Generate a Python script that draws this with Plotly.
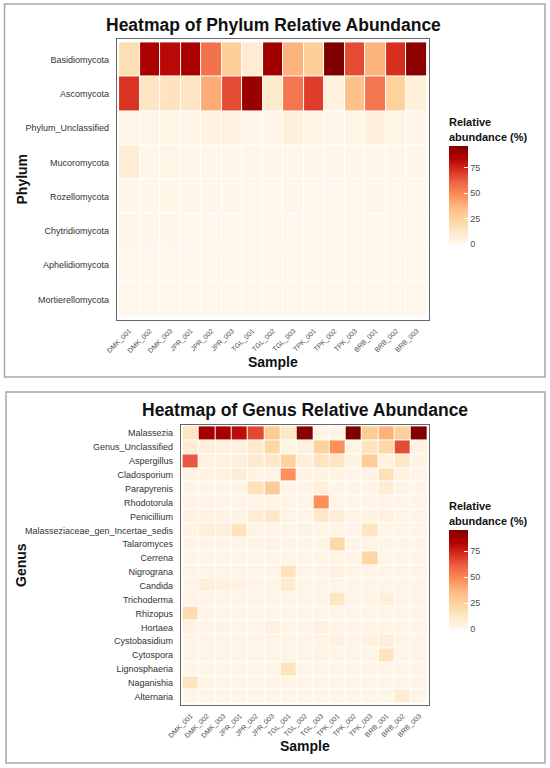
import plotly.graph_objects as go

samples = ["DMK_001", "DMK_002", "DMK_003", "JPR_001", "JPR_002", "JPR_003",
           "TGL_001", "TGL_002", "TGL_003", "TPK_001", "TPK_002", "TPK_003",
           "BRB_001", "BRB_002", "BRB_003"]

phyla = ["Basidiomycota", "Ascomycota", "Phylum_Unclassified", "Mucoromycota",
         "Rozellomycota", "Chytridiomycota", "Aphelidiomycota", "Mortierellomycota"]

basidiomycota = [18, 86, 82, 86, 56, 27, 8, 88, 38, 27, 96, 66, 38, 72, 93]
ascomycota = [71, 13, 15, 13, 40, 66, 90, 10, 55, 69, 4, 33, 55, 25, 6]
phylum_unclassified = [1.5, 2, 2, 2, 4, 4.5, 1.5, 2, 6, 2.5, 1, 2, 5.5, 2, 1.5]
mucoromycota = [8, 1.5, 2, 1, 0.8, 0.8, 0.6, 0.6, 0.8, 0.6, 0.5, 0.6, 0.8, 0.6, 0.5]
rozellomycota = [1, 1, 1.2, 0.6, 0.5, 0.5, 0.4, 0.4, 0.5, 0.4, 0.3, 0.4, 0.5, 0.4, 0.3]
chytridiomycota = [0.8, 0.5, 0.5, 0.4, 0.4, 0.4, 0.3, 0.3, 0.4, 0.3, 0.3, 0.3, 0.4, 0.3, 0.3]
aphelidiomycota = [0.4, 0.3, 0.3, 0.3, 0.3, 0.3, 0.2, 0.2, 0.3, 0.2, 0.2, 0.2, 0.3, 0.2, 0.2]
mortierellomycota = [0.4, 0.3, 0.3, 0.3, 0.3, 0.3, 0.2, 0.2, 0.3, 0.2, 0.2, 0.2, 0.3, 0.2, 0.2]

genera = ["Malassezia", "Genus_Unclassified", "Aspergillus", "Cladosporium",
          "Parapyrenis", "Rhodotorula", "Penicillium",
          "Malasseziaceae_gen_Incertae_sedis", "Talaromyces", "Cerrena",
          "Nigrograna", "Candida", "Trichoderma", "Rhizopus", "Hortaea",
          "Cystobasidium", "Cytospora", "Lignosphaeria", "Naganishia", "Alternaria"]

malassezia = [13, 86, 86, 80, 66, 28, 12, 93, 3, 3, 95, 28, 38, 26, 94]
genus_unclassified = [8, 6, 5, 5, 10, 22, 3, 5, 25, 47, 3, 15, 22, 65, 4]
aspergillus = [62, 4, 5, 6, 10, 12, 24, 6, 14, 14, 3, 27, 5, 12, 3]
cladosporium = [3, 4, 5, 8, 3, 3, 47, 3, 3, 3, 2, 3, 16, 3, 2]
parapyrenis = [2, 2, 2, 2, 16, 28, 2, 2, 6, 2, 1.5, 2, 8, 3, 2]
rhodotorula = [2, 2, 2, 2, 2, 2, 2, 2, 47, 2, 1.5, 2, 2, 2, 2]
penicillium = [3, 4, 3, 3, 8, 12, 3, 2, 12, 8, 2, 3, 5, 2, 2]
malasseziaceae = [3, 6, 6, 15, 3, 2, 2, 3, 2, 2, 2, 14, 2, 2, 2]
talaromyces = [2, 2, 2, 2, 2, 4, 2, 2, 2, 22, 1.5, 2, 2, 2, 2]
cerrena = [1.5, 1.5, 1.5, 1.5, 1.5, 1.5, 1.5, 1.5, 1.5, 1.5, 1.5, 22, 1.5, 1.5, 1.5]
nigrograna = [2, 2, 2, 2, 2, 2, 15, 2, 2, 5, 2, 2, 2, 2, 2]
candida = [2, 6, 5, 4, 2, 2, 10, 2, 2, 2, 2, 2, 2, 2, 2]
trichoderma = [2, 2, 2, 2, 2, 2, 2, 2, 2, 13, 2, 2, 6, 2, 2]
rhizopus = [18, 1.5, 1.5, 1.5, 1.5, 1.5, 1.5, 1.5, 1.5, 1.5, 1.5, 1.5, 1.5, 1.5, 1.5]
hortaea = [4, 2, 3, 2, 2, 5, 2, 2, 5, 2, 2, 2, 2, 2, 2]
cystobasidium = [2, 2, 2, 2, 2, 2, 2, 2, 2, 5, 2, 5, 6, 2, 2]
cytospora = [1.5, 1.5, 1.5, 1.5, 1.5, 1.5, 1.5, 1.5, 3, 1.5, 1.5, 1.5, 14, 1.5, 1.5]
lignosphaeria = [1.5, 1.5, 1.5, 1.5, 1.5, 1.5, 15, 1.5, 1.5, 1.5, 1.5, 1.5, 1.5, 1.5, 1.5]
naganishia = [14, 1.5, 1.5, 1.5, 1.5, 1.5, 1.5, 1.5, 1.5, 1.5, 1.5, 1.5, 1.5, 1.5, 1.5]
alternaria = [1.5, 1.5, 1.5, 1.5, 1.5, 1.5, 1.5, 1.5, 1.5, 1.5, 1.5, 1.5, 1.5, 8, 1.5]

phylum_z = [basidiomycota, ascomycota, phylum_unclassified, mucoromycota,
            rozellomycota, chytridiomycota, aphelidiomycota, mortierellomycota]
genus_z = [malassezia, genus_unclassified, aspergillus, cladosporium, parapyrenis,
           rhodotorula, penicillium, malasseziaceae, talaromyces, cerrena,
           nigrograna, candida, trichoderma, rhizopus, hortaea, cystobasidium,
           cytospora, lignosphaeria, naganishia, alternaria]

W, H = 550, 768
FONT = "Liberation Sans, Arial, sans-serif"


def px_x(v):
    return v / W


def px_y(v):
    return 1 - v / H


def colorbar(top, bottom):
    return dict(
        title=dict(text="<b>Relative<br>abundance (%)</b>", side="top",
                   font=dict(size=11, color="#111", family=FONT)),
        x=px_x(449), xanchor="left", xpad=0,
        y=px_y(top), yanchor="top", ypad=0,
        len=(bottom - top) / H, lenmode="fraction", thickness=19,
        outlinewidth=0, tickvals=[0, 25, 50, 75],
        ticks="inside", ticklen=4, tickcolor="white",
        tickfont=dict(size=9, color="#4d4d4d", family=FONT),
    )


fig = go.Figure()
fig.add_trace(go.Heatmap(
    x=samples, y=phyla, z=phylum_z, colorscale="OrRd",
    zmin=0, zmax=max(max(r) for r in phylum_z),
    xgap=1, ygap=1, colorbar=colorbar(115, 244), xaxis="x", yaxis="y"))
fig.add_trace(go.Heatmap(
    x=samples, y=genera, z=genus_z, colorscale="OrRd",
    zmin=0, zmax=max(max(r) for r in genus_z),
    xgap=1, ygap=1, colorbar=colorbar(499, 629), xaxis="x2", yaxis="y2"))

axis_common = dict(showline=True, mirror=True, linecolor="#666", linewidth=1.2,
                   showgrid=False, zeroline=False, ticks="", automargin=False)
fig.update_layout(
    width=W, height=H, margin=dict(l=0, r=0, t=0, b=0, autoexpand=False),
    paper_bgcolor="white", plot_bgcolor="white",
    font=dict(family=FONT),
    xaxis=dict(domain=[px_x(117), px_x(429)], anchor="y",
               range=[-0.6, len(samples) - 0.4], tickangle=-45,
               tickfont=dict(size=7, color="#4d4d4d"), ticklabelstandoff=3,
               **axis_common),
    yaxis=dict(domain=[px_y(320), px_y(39)], anchor="x",
               range=[len(phyla) - 0.4, -0.6],
               tickfont=dict(size=9, color="#333"), ticklabelstandoff=5,
               **axis_common),
    xaxis2=dict(domain=[px_x(181), px_x(429)], anchor="y2",
                range=[-0.6, len(samples) - 0.4], tickangle=-45,
                tickfont=dict(size=7, color="#4d4d4d"), ticklabelstandoff=3,
                **axis_common),
    yaxis2=dict(domain=[px_y(705), px_y(425)], anchor="x2",
                range=[len(genera) - 0.4, -0.6],
                tickfont=dict(size=9, color="#333"), ticklabelstandoff=5,
                **axis_common),
)

# panel frames
for y0, y1, x0 in [(4, 377, 4.5), (392, 763, 6)]:
    fig.add_shape(type="rect", xref="paper", yref="paper",
                  x0=px_x(x0), x1=px_x(545), y0=px_y(y1), y1=px_y(y0),
                  line=dict(color="#a6a6a6", width=1.5), layer="below")

texts = [
    ("<b>Heatmap of Phylum Relative Abundance</b>", 273, 25, 17.5, 0),
    ("<b>Heatmap of Genus Relative Abundance</b>", 305, 410, 17.5, 0),
    ("<b>Sample</b>", 273, 362, 14, 0),
    ("<b>Sample</b>", 305, 746, 14, 0),
    ("<b>Phylum</b>", 21, 179.5, 14, -90),
    ("<b>Genus</b>", 21, 565, 14, -90),
]
for text, x, y, size, angle in texts:
    fig.add_annotation(text=text, x=px_x(x), y=px_y(y), xref="paper", yref="paper",
                       showarrow=False, textangle=angle, xanchor="center",
                       yanchor="middle", font=dict(size=size, color="#111"))

fig.write_html("out.html", config={"displayModeBar": False},
               post_script="document.body.style.margin = '0';")
